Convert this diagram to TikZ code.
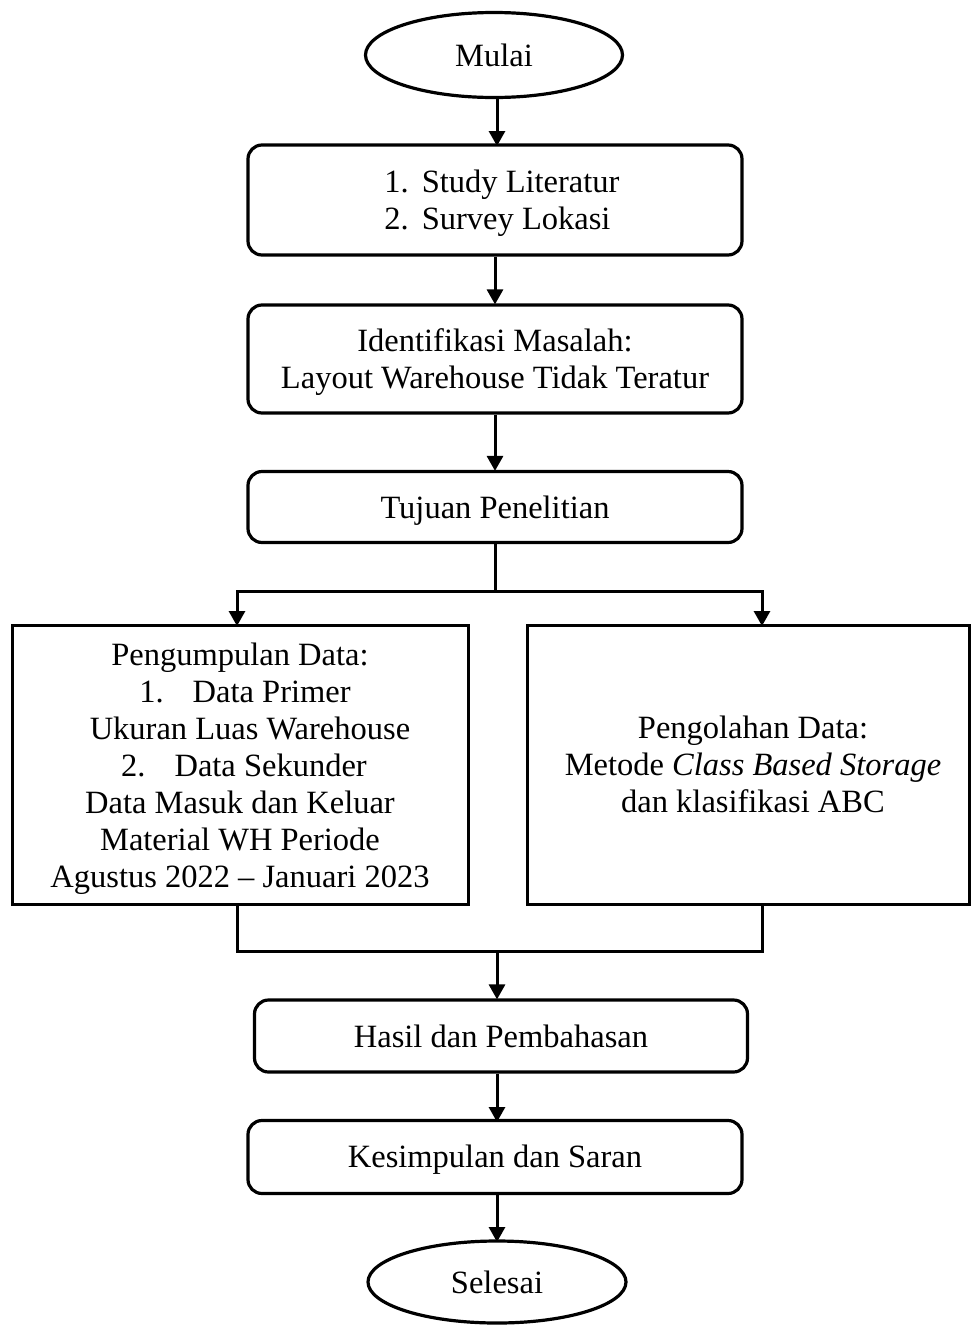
\documentclass[tikz,border=0pt]{standalone}
\usepackage{fontspec}
\setmainfont{Liberation Serif}
\usetikzlibrary{shapes.geometric,arrows.meta}
\newcommand\dn[2][4pt]{\raisebox{-#1}[\height][\depth]{\begin{tabular}{@{}c@{}}#2\end{tabular}}}
\begin{document}
\begin{tikzpicture}[x=1pt,y=-1pt,
  every node/.style={font=\fontsize{32.5}{37}\selectfont, align=center, inner sep=0pt},
  rbox/.style={draw, line width=3.2pt, rounded corners=14pt, minimum width=#1},
  rbox/.default=494pt,
  sbox/.style={draw, line width=3pt},
  term/.style={draw, ellipse, line width=3.2pt},
  conn/.style={line width=3pt},
  arr/.style={conn, -{Triangle[length=15pt,width=16pt]}, shorten >=-1pt}
]
\useasboundingbox (0,0) rectangle (971,1326);

\node[term, minimum width=257pt, minimum height=85pt] (mulai) at (494,55) {Mulai};
\node[rbox, minimum height=110pt] (b1) at (495,200)
  {\hspace{14pt}\raisebox{-4pt}[\height][\depth]{\begin{tabular}{@{}l@{\hspace{0.4em}}l@{}}1.&Study Literatur\\2.&Survey Lokasi\end{tabular}}};
\node[rbox, minimum height=108pt] (b2) at (495,359)
  {\dn{Identifikasi Masalah:\\Layout Warehouse Tidak Teratur}};
\node[rbox, minimum height=71pt] (b3) at (495,507) {\dn{Tujuan Penelitian}};
\node[sbox, minimum width=456pt, minimum height=279pt] (left) at (240,764.5)
  {\dn[5pt]{Pengumpulan Data:\\
   \hspace{10pt}1.\hspace{29pt}Data Primer\\
   \hspace{20pt}Ukuran Luas Warehouse\\
   \hspace{8pt}2.\hspace{29pt}Data Sekunder\\
   Data Masuk dan Keluar\\
   Material WH Periode\\
   Agustus 2022 -- Januari 2023}};
\node[sbox, minimum width=442pt, minimum height=279pt] (right) at (748,764.5)
  {\hspace{10pt}\dn{Pengolahan Data:\\Metode \textit{Class Based Storage}\\dan klasifikasi ABC}};
\node[rbox=493pt, minimum height=72pt] (hasil) at (501,1036) {Hasil dan Pembahasan};
\node[rbox, minimum height=73pt] (kes) at (495,1157) {\dn[3pt]{Kesimpulan dan Saran}};
\node[term, minimum width=258pt, minimum height=82pt] (selesai) at (497,1282) {\dn{Selesai}};

\draw[arr] (mulai.south -| 497,0) -- (497,145);
\draw[arr] (b1.south) -- (b2.north);
\draw[arr] (b2.south) -- (b3.north);

\coordinate (sp) at (b3.south |- 0,591);
\coordinate (la) at (237,625);
\coordinate (ra) at (762,625);
\draw[conn] (b3.south) -- (sp);
\draw[arr] (sp) -| (la);
\draw[arr] (sp) -| (ra);

\coordinate (lj) at (237,904);
\coordinate (rj) at (762,904);
\coordinate (jn) at (497,951);
\draw[conn] (lj) |- (jn) -| (rj);
\draw[arr] (jn) -- (jn |- hasil.north);
\draw[arr] (hasil.south -| 497,0) -- (497,1121);
\draw[arr] (kes.south -| 497,0) -- (497,1241);
\end{tikzpicture}
\end{document}
